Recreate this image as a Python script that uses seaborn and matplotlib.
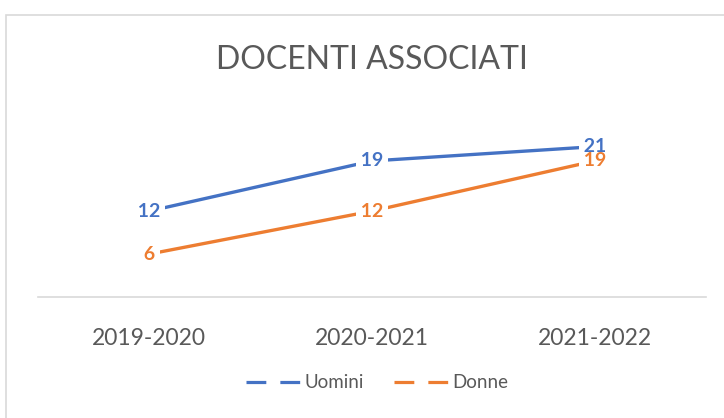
import matplotlib
matplotlib.use("Agg")
import matplotlib.pyplot as plt
import seaborn as sns
import pandas as pd
from matplotlib.lines import Line2D
from matplotlib.patches import Rectangle

years = ["2019-2020", "2020-2021", "2021-2022"]
uomini = [12, 19, 21]
donne = [6, 12, 19]
series_names = ["Uomini", "Donne"]
colors = ["#4472C4", "#ED7D31"]

df = pd.DataFrame({
    "anno": years * 2,
    "valore": uomini + donne,
    "serie": [series_names[0]] * 3 + [series_names[1]] * 3,
})

sns.set_theme(style="white")
plt.rcParams['font.family'] = ['Lato', 'DejaVu Sans']

fig = plt.figure(figsize=(7.24, 4.18), dpi=100)
fig.patch.set_facecolor("white")
fig.add_artist(Rectangle((6 / 724, -0.05), 1.0, 1 - 15 / 418 + 0.05, transform=fig.transFigure,
                         fill=False, edgecolor="#D9D9D9", linewidth=1.2))

ax = fig.add_axes([38 / 724, 1 - 297 / 418, (706 - 38) / 724, (297 - 118) / 418])
sns.lineplot(data=df, x="anno", y="valore", hue="serie", palette=colors,
             linewidth=2.4, ax=ax, legend=False, sort=False)

ax.set_ylim(0, 25)
ax.set_xlim(-0.5, 2.5)
ax.set_yticks([])
ax.set_xlabel("")
ax.set_ylabel("")
for s in ["top", "right", "left"]:
    ax.spines[s].set_visible(False)
ax.spines["bottom"].set_color("#D9D9D9")
ax.spines["bottom"].set_linewidth(1.2)
ax.tick_params(axis="x", length=0, pad=22, labelsize=16.5, labelcolor="#595959")

for vals, c in zip([uomini, donne], colors):
    for i, v in enumerate(vals):
        ax.text(i, v, f" {v} ", ha="center", va="center", color=c, fontsize=14,
                fontweight="bold", zorder=5,
                bbox=dict(boxstyle="square,pad=0", facecolor="white", edgecolor="none"))

fig.text(372 / 724, 1 - 60 / 418, "DOCENTI ASSOCIATI", ha="center", va="center",
         fontsize=23, color="#595959", fontweight="normal")

handles = [Line2D([], [], color=c, linewidth=2.3, linestyle=(0, (6.2, 4.4))) for c in colors]
fig.legend(handles, series_names, loc="center", bbox_to_anchor=(377 / 724, 1 - 383 / 418),
           ncol=2, frameon=False, fontsize=13.5, labelcolor="#595959",
           handlelength=3.0, handletextpad=0.1, columnspacing=1.6)

fig.savefig("out.png", dpi=100, facecolor="white")
